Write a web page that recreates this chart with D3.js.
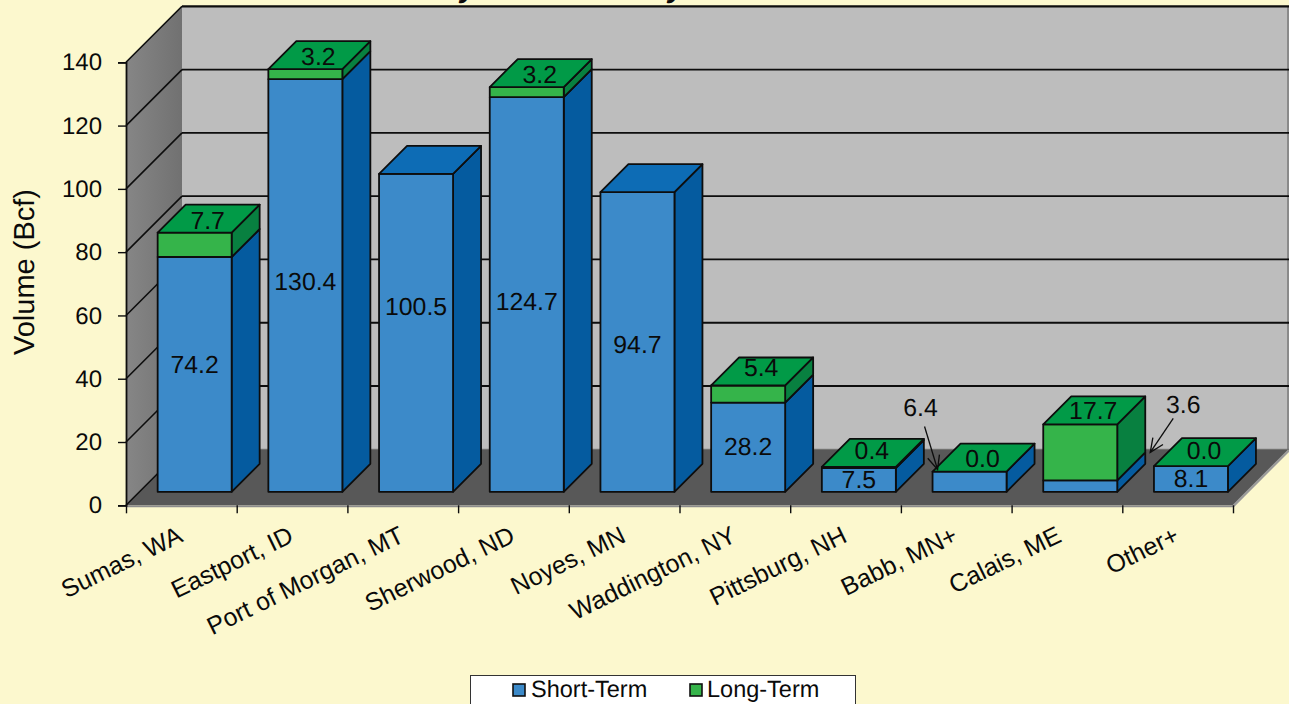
<!DOCTYPE html>
<html>
<head>
<meta charset="utf-8">
<script src="https://cdn.jsdelivr.net/npm/d3@7/dist/d3.min.js"></script>
<style>
html,body{margin:0;padding:0;background:#fcf8ce;overflow:hidden}
svg{display:block}
text{font-family:"Liberation Sans",Arial,sans-serif;fill:#0a0a0a;text-rendering:geometricPrecision}
</style>
</head>
<body>
<svg id="c" width="1289" height="704"></svg>
<script>
const categories = ["Sumas, WA","Eastport, ID","Port of Morgan, MT","Sherwood, ND","Noyes, MN","Waddington, NY","Pittsburg, NH","Babb, MN+","Calais, ME","Other+"];
const shortTerm = [74.2,130.4,100.5,124.7,94.7,28.2,7.5,6.4,3.6,8.1];
const longTerm  = [7.7,3.2,null,3.2,null,5.4,0.4,0.0,17.7,0.0];
const yTicks = [0,20,40,60,80,100,120,140];
const seriesNames = ["Short-Term","Long-Term"];
const yAxisTitle = "Volume (Bcf)";

// layout
const W=1289, FS=24, LABEL_FS=24.8;
const x0=126, x1=1233, yBase=505.3, yTop=62.3, depth=56;
const barDepth=28, barInsetX=13.3, barInsetY=13.5, barW=74;

const svg=d3.select("#c");
const y=d3.scaleLinear().domain([0,140]).range([yBase,yTop]);
const edge=d3.scaleLinear().domain([0,categories.length]).range([x0,x1]);
const band=d3.scaleBand().domain(categories).range([x0,x1]);
const pts=a=>a.map(p=>p.join(",")).join(" ");
const C={blue:"#3c8ac9",blueTop:"#0d6cb5",blueSide:"#055b9f",green:"#35b44a",greenTop:"#019a47",greenSide:"#088040",
  back:"#bdbdbd",floor:"#585858",stroke:"#0d0d0d"};

// title remnant cropped by the top of the page
svg.selectAll("text.title").data(["y","y"]).join("text").attr("class","title")
  .attr("x",(d,i)=>[460,668][i]).attr("y",-3)
  .attr("font-size",30).attr("font-weight","bold").attr("font-style","italic").text(d=>d);

const defs=svg.append("defs");
const lg=defs.append("linearGradient").attr("id","wall");
lg.append("stop").attr("offset","0").attr("stop-color","#868686");
lg.append("stop").attr("offset","1").attr("stop-color","#717171");

// back wall, left wall, floor
svg.append("rect").attr("x",x0+depth).attr("y",y(140)-depth).attr("width",W-x0-depth).attr("height",y(0)-y(140))
  .attr("fill",C.back);
svg.append("rect").attr("x",W-2).attr("y",y(140)-depth).attr("width",2).attr("height",y(0)-y(140)).attr("fill","#8a8a8a");
svg.append("polygon").attr("points",pts([[x0,y(0)],[x0+depth,y(0)-depth],[x0+depth,y(140)-depth],[x0,y(140)]])).attr("fill","url(#wall)");
svg.append("polygon").attr("points",pts([[x0,y(0)],[x1,y(0)],[x1+depth,y(0)-depth],[x0+depth,y(0)-depth]])).attr("fill",C.floor);
svg.append("line").attr("x1",x0).attr("x2",x1).attr("y1",y(0)+1).attr("y2",y(0)+1).attr("stroke","#8c8c8c").attr("stroke-width",2);
svg.append("line").attr("x1",x1).attr("x2",x1+depth).attr("y1",y(0)+1).attr("y2",y(0)-depth+1).attr("stroke","#9a9a9a").attr("stroke-width",2.5);
svg.append("line").attr("x1",x0+depth).attr("x2",W).attr("y1",y(0)-depth).attr("y2",y(0)-depth).attr("stroke","#6e6e6e").attr("stroke-width",1);

// gridlines
const g=svg.append("g").attr("fill","none").attr("stroke","#0d0d0d");
yTicks.forEach(t=>{
  const yy=y(t);
  if(t>0) g.append("line").attr("x1",x0+depth).attr("x2",W).attr("y1",yy-depth).attr("y2",yy-depth).attr("stroke-width",t===140?2.2:1.8);
  g.append("line").attr("x1",x0).attr("x2",x0+depth).attr("y1",yy).attr("y2",yy-depth).attr("stroke-width",1.6);
});

// axes
const yAxis=svg.append("g").attr("transform",`translate(${x0},0)`).call(d3.axisLeft(y).tickValues(yTicks).tickSize(8).tickPadding(16).tickFormat(d3.format("d")));
yAxis.select(".domain").attr("stroke","#0d0d0d").attr("stroke-width",1.8);
yAxis.selectAll(".tick line").attr("stroke","#0d0d0d").attr("stroke-width",1.4);
yAxis.selectAll("text").attr("font-size",FS).attr("font-family",'"Liberation Sans"').attr("fill","#0a0a0a");
const xAxis=svg.append("g").attr("transform",`translate(0,${yBase})`).call(d3.axisBottom(edge).tickValues(d3.range(categories.length+1)).tickSize(8).tickFormat(""));
xAxis.select(".domain").remove();
xAxis.selectAll(".tick line").attr("stroke","#0d0d0d").attr("stroke-width",1.4);

// bars
const barLeft=c=>band(c)+(band.bandwidth()-barW)/2+barInsetX;
const yb=v=>y(v)-barInsetY;
function box(g,xL,v0,v1,front,side,top,showTop){
  const a=yb(v0),b=yb(v1),r=xL+barW,d=barDepth;
  const attrs=s=>s.attr("stroke",C.stroke).attr("stroke-width",1.8).attr("stroke-linejoin","round");
  if(b<a){
    g.append("polygon").attr("points",pts([[r,a],[r+d,a-d],[r+d,b-d],[r,b]])).attr("fill",side).call(attrs);
    g.append("rect").attr("x",xL).attr("y",b).attr("width",barW).attr("height",a-b).attr("fill",front).call(attrs);
  }
  if(showTop) g.append("polygon").attr("points",pts([[xL,b],[r,b],[r+d,b-d],[xL+d,b-d]])).attr("fill",top).call(attrs);
}
const bars=svg.append("g");
categories.forEach((c,i)=>{
  const xL=barLeft(c),s=shortTerm[i],l=longTerm[i];
  const gb=bars.append("g");
  box(gb,xL,0,s,C.blue,C.blueSide,C.blueTop,l===null);
  if(l!==null) box(gb,xL,s,s+l,C.green,C.greenSide,C.greenTop,true);
});

// value labels
const labels=svg.append("g").attr("text-anchor","middle").attr("font-size",LABEL_FS);
const shortNudge=[-10,-4,-26,7,2,-1,-1,0,0,-1];
const longNudge=[2,1,0,1,0,-4,-2,1,0,-2];
categories.forEach((c,i)=>{
  const cx=barLeft(c)+barW/2,s=shortTerm[i],l=longTerm[i];
  if(s>=7.5) labels.append("text").attr("x",cx).attr("y",(yb(0)+yb(s))/2+shortNudge[i]).attr("dy","0.35em").text(s.toFixed(1));
  if(l!==null) labels.append("text").attr("x",cx+barDepth/2-1).attr("y",yb(s+l)-barDepth/2+longNudge[i]).attr("dy","0.35em").text(l.toFixed(1));
});

// callouts for the two short bars too thin to hold a label
const callout=(i,tx,ty)=>{
  const c=categories[i],xL=barLeft(c),top=yb(shortTerm[i]+(longTerm[i]||0));
  const X=o=>xL+o,Y=o=>top+o;
  labels.append("text").attr("x",X(tx)).attr("y",Y(ty)).attr("dy","0.35em").text(shortTerm[i].toFixed(1));
  return {X,Y};
};
const arrows=svg.append("g").attr("fill","none").attr("stroke","#0d0d0d").attr("stroke-width",1.3);
function arrow(x1,y1,x2,y2,len=15,sp=0.42){
  const a=Math.atan2(y2-y1,x2-x1);
  arrows.append("line").attr("x1",x1).attr("y1",y1).attr("x2",x2).attr("y2",y2);
  arrows.append("polyline").attr("points",pts([
    [x2-len*Math.cos(a-sp),y2-len*Math.sin(a-sp)],[x2,y2],[x2-len*Math.cos(a+sp),y2-len*Math.sin(a+sp)]]));
}
const p7=callout(7,-12,-64);
arrow(p7.X(-8),p7.Y(-45),p7.X(5),p7.Y(-2));
const p8=callout(8,140,-20);
arrow(p8.X(130),p8.Y(-6),p8.X(107),p8.Y(28));

// category labels
const labelShift=[0,0,0,0,0,0,0,0,-7,0];
svg.append("g").selectAll("text").data(categories).join("text")
  .attr("font-size",25).attr("text-anchor","end")
  .attr("transform",(c,i)=>`translate(${band(c)+band.bandwidth()/2+3+labelShift[i]},541) rotate(-26)`)
  .text(c=>c);

// y title
svg.append("text").attr("transform","translate(34,272) rotate(-90)").attr("text-anchor","middle").attr("font-size",29).text(yAxisTitle);

// legend
const leg=svg.append("g");
leg.append("rect").attr("x",470.5).attr("y",675.5).attr("width",385).attr("height",40).attr("fill","#fff").attr("stroke","#333").attr("stroke-width",1);
[[C.blue,513,531],[C.green,690,707]].forEach((d,i)=>{
  leg.append("rect").attr("x",d[1]).attr("y",684).attr("width",12).attr("height",12).attr("fill",d[0]).attr("stroke","#111").attr("stroke-width",1.6);
  leg.append("text").attr("x",d[2]).attr("y",697).attr("font-size",23.5).text(seriesNames[i]);
});
</script>
</body>
</html>
